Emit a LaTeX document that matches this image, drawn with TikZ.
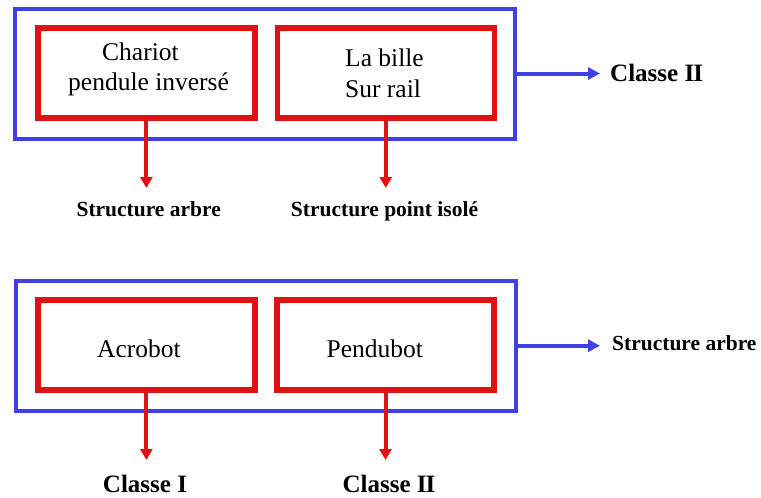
\documentclass[tikz,border=0pt]{standalone}
\usepackage{fontspec}
\setmainfont{Liberation Serif}
\usetikzlibrary{arrows.meta}
\definecolor{frameblue}{RGB}{64,64,228}
\definecolor{boxred}{RGB}{226,18,18}
% Roman numeral two with joined serifs
\newcommand\romtwo{I\kern-0.04em I}
\begin{document}
\begin{tikzpicture}[x=1pt,y=-1pt,
  group/.style={draw=frameblue,line width=4pt,minimum width=500pt,minimum height=130pt,inner sep=0pt},
  sysbox/.style={draw=boxred,line width=5.5pt,minimum width=217pt,minimum height=90pt,inner sep=0pt},
  txt/.style={font=\fontsize{25.5}{30}\selectfont,inner sep=0pt,anchor=base west},
  small/.style={font=\fontsize{21.5}{26}\selectfont\bfseries,inner sep=0pt,anchor=base},
  big/.style={font=\fontsize{25}{30}\selectfont\bfseries,inner sep=0pt,anchor=base},
  redarrow/.style={draw=boxred,line width=4pt,-{Triangle[width=12pt,length=11pt]}},
  bluearrow/.style={draw=frameblue,line width=4pt,-{Triangle[width=12pt,length=12pt]}}]
\useasboundingbox (0,0) rectangle (761,498);

% upper group
\node[group]  (g1) at (265.2,73.5) {};
\node[sysbox] (s1) at (146.4,72.8) {};
\node[sysbox] (s2) at (385.8,72.8) {};
\node[txt] (t1a) at (102,60)   {Chariot};
\node[txt] (t1b) at (68,90.5)  {pendule inversé};
\node[txt] (t2a) at (345,66.5) {La bille};
\node[txt] (t2b) at (345,97.5) {Sur rail};

\coordinate (e1) at (145,188);
\coordinate (e2) at (384,188);
\coordinate (e3) at (600,73.5);
\node[small] (l1) at (148.7,216.5) {Structure arbre};
\node[small] (l2) at (384.5,216.5) {Structure point isolé};
\node[big,anchor=base west] (l3) at (610,81.5) {Classe \romtwo};
\draw[redarrow]  (s1.south) -- (s1.south |- e1);
\draw[redarrow]  (s2.south) -- (s2.south |- e2);
\draw[bluearrow] (g1.east) -- (g1.east -| e3);

% lower group
\node[group]  (g2) at (265.5,345.7) {};
\node[sysbox] (s3) at (146.4,345) {};
\node[sysbox] (s4) at (385.5,345) {};
\node[txt] (t3) at (97,357)    {Acrobot};
\node[txt] (t4) at (326.5,357) {Pendubot};

\coordinate (e4) at (145,460);
\coordinate (e5) at (384,460);
\coordinate (e6) at (600,345.7);
\node[big] (l4) at (145,492.5) {Classe I};
\node[big] (l5) at (389,492.5) {Classe \romtwo};
\node[small,anchor=base west] (l6) at (612,350.5) {Structure arbre};
\draw[redarrow]  (s3.south) -- (s3.south |- e4);
\draw[redarrow]  (s4.south) -- (s4.south |- e5);
\draw[bluearrow] (g2.east) -- (g2.east -| e6);
\end{tikzpicture}
\end{document}
